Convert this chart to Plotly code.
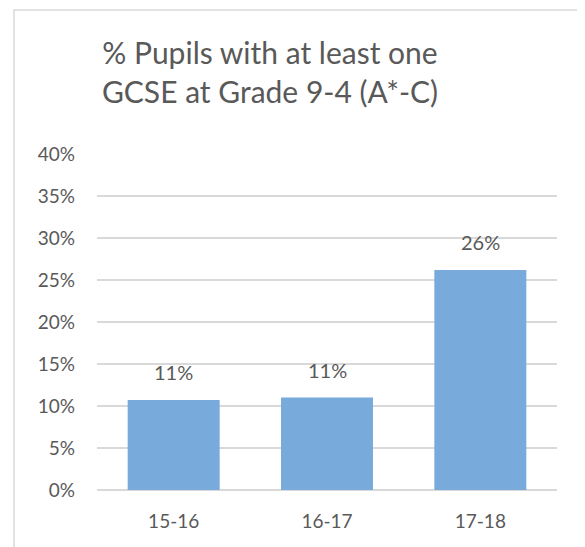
import plotly.graph_objects as go

categories = ["15-16", "16-17", "17-18"]
values = [0.107, 0.110, 0.262]
labels = ["11%", "11%", "26%"]
tick_vals = [0, 0.05, 0.10, 0.15, 0.20, 0.25, 0.30, 0.35, 0.40]
tick_text = ["0%", "5%", "10%", "15%", "20%", "25%", "30%", "35%", "40%"]
title_text = "% Pupils with at least one<br>GCSE at Grade 9-4 (A*-C)"

FONT = "Lato, 'Open Sans', sans-serif"
GREY = "#595959"

L, R, T, B = 89, 36, 146, 65
PW, PH = 585 - L - R, 547 - T - B

fig = go.Figure(go.Bar(
    x=categories, y=values,
    marker=dict(color="#78aadb", line=dict(width=0)),
    hoverinfo="skip",
))

annotations = [
    dict(x=c, y=v, text=t, xref="x", yref="y", showarrow=False,
         yanchor="bottom", yshift=14,
         font=dict(size=20, color=GREY, family=FONT))
    for c, v, t in zip(categories, values, labels)
]

fig.update_layout(
    width=585, height=547,
    margin=dict(l=L, r=R, t=T, b=B),
    paper_bgcolor="white", plot_bgcolor="white",
    bargap=0.4,
    showlegend=False,
    annotations=annotations,
    title=dict(text=title_text, x=262/585, xanchor="center", xref="container",
               y=1 - 56/547, yanchor="middle", yref="container",
               font=dict(size=30, color=GREY, family=FONT)),
    xaxis=dict(showgrid=False, showline=False, ticks="",
               tickfont=dict(size=19, color=GREY, family=FONT), ticklabelstandoff=18),
    yaxis=dict(range=[0, 0.40], tickvals=tick_vals, ticktext=tick_text,
               showgrid=True, gridcolor="#d9d9d9", gridwidth=1.5,
               zeroline=True, zerolinecolor="#d9d9d9", zerolinewidth=1.5,
               showline=False, ticks="",
               tickfont=dict(size=19, color=GREY, family=FONT), ticklabelstandoff=21),
    shapes=[dict(type="rect", xref="paper", yref="paper",
                 x0=(6 - L) / PW, x1=1.3, y0=-0.4, y1=((547 - B) - 2) / PH,
                 line=dict(color="#d9d9d9", width=1.5), fillcolor="rgba(0,0,0,0)", layer="below")],
)

fig.write_html("out.html")
